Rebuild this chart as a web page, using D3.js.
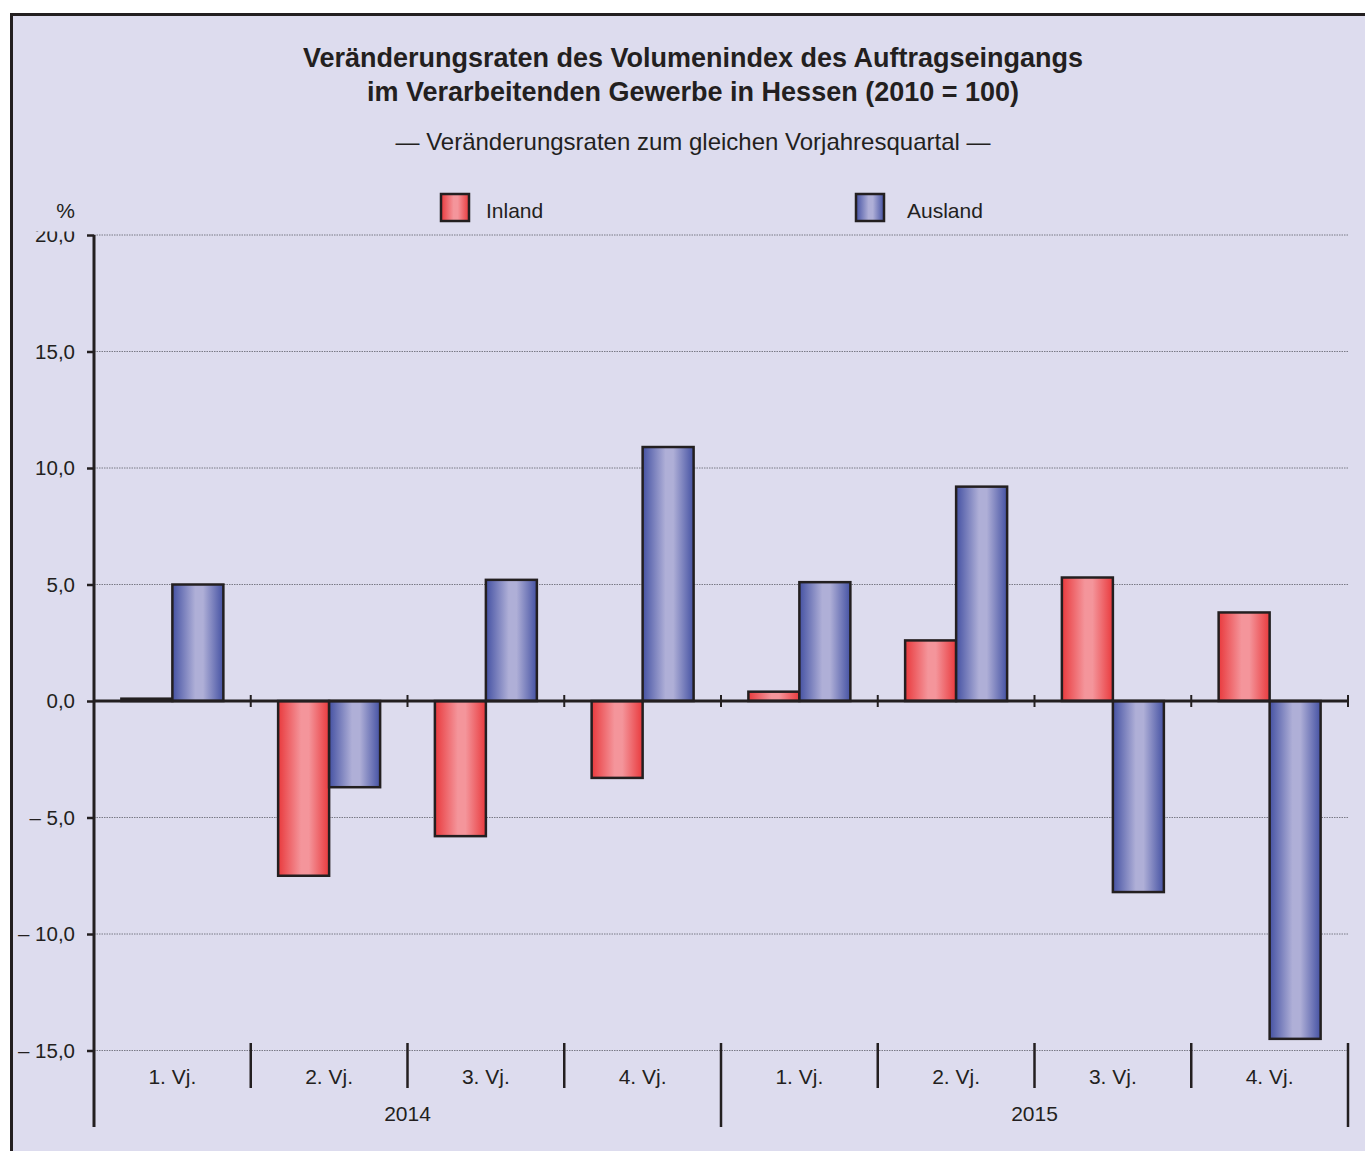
<!DOCTYPE html>
<html>
<head>
<meta charset="utf-8">
<script src="https://cdn.jsdelivr.net/npm/d3@7"></script>
<style>
  body { margin: 0; background: #fff; }
  svg { display: block; font-family: "Liberation Sans", Arial, sans-serif; }
</style>
</head>
<body>
<svg id="chart" width="1365" height="1151"></svg>
<script>
// data
const quarters = ['1. Vj.', '2. Vj.', '3. Vj.', '4. Vj.', '1. Vj.', '2. Vj.', '3. Vj.', '4. Vj.'];
const years = ['2014', '2015'];
const series = ['Inland', 'Ausland'];
const inland = [0.1, -7.5, -5.8, -3.3, 0.4, 2.6, 5.3, 3.8];
const ausland = [5.0, -3.7, 5.2, 10.9, 5.1, 9.2, -8.2, -14.5];
const yTicks = [20, 15, 10, 5, 0, -5, -10, -15];

const rows = quarters.map((q, i) => ({i, q, Inland: inland[i], Ausland: ausland[i]}));

const svg = d3.select('#chart');
const plotL = 94, plotR = 1348, plotT = 235, plotB = 1050.5;
const ink = '#231f20';

// background + frame
svg.append('rect')
  .attr('x', 11.5).attr('y', 14.5)
  .attr('width', 1400).attr('height', 1200)
  .attr('fill', '#dddcee')
  .attr('stroke', ink)
  .attr('stroke-width', 3);

// gradients
const defs = svg.append('defs');
function grad(id, edge, mid) {
  const g = defs.append('linearGradient').attr('id', id)
    .attr('x1', '0%').attr('x2', '100%').attr('y1', '0%').attr('y2', '0%');
  [[0, edge], [0.45, mid], [0.6, mid], [1, edge]].forEach(([o, c]) => {
    g.append('stop').attr('offset', o).attr('stop-color', c);
  });
}
grad('gInland', '#e93a3d', '#f4959b');
grad('gAusland', '#4552a3', '#afafd7');
const fills = {Inland: 'url(#gInland)', Ausland: 'url(#gAusland)'};

defs.append('clipPath').attr('id', 'topClip')
  .append('rect').attr('x', -200).attr('y', -4).attr('width', 400).attr('height', 100);

// scales
const x0 = d3.scaleBand().domain(d3.range(quarters.length)).range([plotL, plotR]);
const x1 = d3.scaleBand().domain(series).range([0, x0.bandwidth()]).paddingOuter(0.537);
const y = d3.scaleLinear().domain([-15, 20]).range([plotB, plotT]);

const fmt = v => {
  const s = d3.format('.1f')(Math.abs(v)).replace('.', ',');
  return v < 0 ? '\u2013 ' + s : s;
};

// gridlines
svg.append('g')
  .selectAll('line')
  .data(yTicks.filter(v => v !== 0))
  .join('line')
  .attr('x1', plotL).attr('x2', plotR)
  .attr('y1', d => y(d)).attr('y2', d => y(d))
  .attr('stroke', '#5f5f6a')
  .attr('stroke-width', 0.8)
  .attr('stroke-dasharray', '1.5,1');

// y axis
const yAxis = svg.append('g')
  .attr('transform', `translate(${plotL},0)`)
  .call(d3.axisLeft(y).tickValues(yTicks).tickFormat(fmt).tickSize(7).tickPadding(12));
yAxis.select('.domain').remove();
yAxis.selectAll('.tick line').attr('stroke', ink).attr('stroke-width', 2.5);
yAxis.selectAll('.tick text')
  .attr('font-size', 20.5).attr('fill', ink)
  .attr('font-family', '"Liberation Sans", Arial, sans-serif');
// top label is cut off in the original
yAxis.selectAll('.tick').filter(d => d === 20).select('text').attr('clip-path', 'url(#topClip)');

svg.append('line')
  .attr('x1', plotL).attr('x2', plotL)
  .attr('y1', plotT).attr('y2', 1127)
  .attr('stroke', ink).attr('stroke-width', 3);

svg.append('text')
  .attr('x', 75).attr('y', 218)
  .attr('text-anchor', 'end')
  .attr('font-size', 21).attr('fill', ink)
  .text('%');

// bars
const groups = svg.append('g')
  .selectAll('g')
  .data(rows)
  .join('g')
  .attr('transform', d => `translate(${x0(d.i)},0)`);

groups.selectAll('rect')
  .data(d => series.map(s => ({s, v: d[s]})))
  .join('rect')
  .attr('x', d => x1(d.s))
  .attr('width', x1.bandwidth())
  .attr('y', d => Math.min(y(d.v), y(0)))
  .attr('height', d => Math.abs(y(d.v) - y(0)))
  .attr('fill', d => fills[d.s])
  .attr('stroke', ink)
  .attr('stroke-width', 2.5);

// zero line and small ticks
svg.append('line')
  .attr('x1', plotL).attr('x2', plotR)
  .attr('y1', y(0)).attr('y2', y(0))
  .attr('stroke', ink).attr('stroke-width', 3);

const bounds = d3.range(quarters.length + 1).map(i => i < quarters.length ? x0(i) : plotR);
svg.append('g')
  .selectAll('line')
  .data(bounds.slice(1))
  .join('line')
  .attr('x1', d => d).attr('x2', d => d)
  .attr('y1', y(0) - 6).attr('y2', y(0) + 6)
  .attr('stroke', ink).attr('stroke-width', 2);

// bottom category axis
svg.append('g')
  .selectAll('line')
  .data(bounds.slice(1))
  .join('line')
  .attr('x1', d => d).attr('x2', d => d)
  .attr('y1', 1043).attr('y2', d => (d === plotR || d === x0(4)) ? 1127 : 1088)
  .attr('stroke', ink).attr('stroke-width', 2.5);

svg.append('g')
  .selectAll('text')
  .data(rows)
  .join('text')
  .attr('x', d => x0(d.i) + x0.bandwidth() / 2)
  .attr('y', 1084)
  .attr('text-anchor', 'middle')
  .attr('font-size', 21).attr('fill', ink)
  .text(d => d.q);

svg.append('g')
  .selectAll('text')
  .data(years)
  .join('text')
  .attr('x', (d, i) => (x0(i * 4) + (i === 0 ? x0(4) : plotR)) / 2)
  .attr('y', 1121)
  .attr('text-anchor', 'middle')
  .attr('font-size', 21).attr('fill', ink)
  .text(d => d);

// title
const title = svg.append('text')
  .attr('text-anchor', 'middle')
  .attr('font-size', 27).attr('font-weight', 'bold').attr('fill', ink);
title.append('tspan').attr('x', 693).attr('y', 67)
  .text('Veränderungsraten des Volumenindex des Auftragseingangs');
title.append('tspan').attr('x', 693).attr('y', 101)
  .text('im Verarbeitenden Gewerbe in Hessen (2010 = 100)');

svg.append('text')
  .attr('x', 693).attr('y', 150)
  .attr('text-anchor', 'middle')
  .attr('font-size', 24).attr('fill', ink)
  .text('\u2014 Veränderungsraten zum gleichen Vorjahresquartal \u2014');

// legend
const legendX = {Inland: 441, Ausland: 856};
const legendTextX = {Inland: 486, Ausland: 907};
const legend = svg.append('g')
  .selectAll('g')
  .data(series)
  .join('g');
legend.append('rect')
  .attr('x', d => legendX[d]).attr('y', 194)
  .attr('width', 28).attr('height', 27)
  .attr('fill', d => fills[d])
  .attr('stroke', ink).attr('stroke-width', 2.5);
legend.append('text')
  .attr('x', d => legendTextX[d]).attr('y', 218)
  .attr('font-size', 21).attr('fill', ink)
  .text(d => d);
</script>
</body>
</html>
